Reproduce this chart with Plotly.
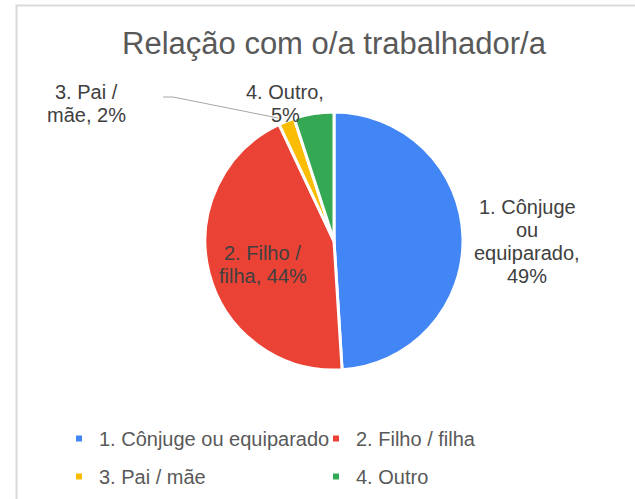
import plotly.graph_objects as go

# ---------------- data ----------------
categories = ["1. Cônjuge ou equiparado", "2. Filho / filha", "3. Pai / mãe", "4. Outro"]
values = [49, 44, 2, 5]
colors = ["#4285F4", "#EA4335", "#FBBC04", "#34A853"]
title_text = "Relação com o/a trabalhador/a"

# data labels, wrapped as in the reference
label_lines = [
    ["1. Cônjuge", "ou", "equiparado,", f"{values[0]}%"],
    ["2. Filho /", f"filha, {values[1]}%"],
    ["3. Pai /", f"mãe, {values[2]}%"],
    ["4. Outro,", f"{values[3]}%"],
]

# ---------------- layout helpers (pixels -> paper) ----------------
W, H = 635, 499
def px(x):
    return x / W
def py(y):
    return 1 - y / H

FONT = "Arial, 'Liberation Sans', sans-serif"
cx, cy, r = 334, 241, 129

fig = go.Figure()
fig.add_trace(go.Pie(
    labels=categories,
    values=values,
    sort=False,
    direction="clockwise",
    rotation=0,
    marker=dict(colors=colors, line=dict(color="white", width=3)),
    textinfo="none",
    hoverinfo="label+percent",
    showlegend=False,
    domain=dict(x=[px(cx - r), px(cx + r)], y=[py(cy + r), py(cy - r)]),
))

# legend entries (small square swatches like the reference), two rows
legend_ids = ["legend", "legend", "legend2", "legend2"]
for name, col, lg in zip(categories, colors, legend_ids):
    fig.add_trace(go.Scatter(
        x=[None], y=[None], mode="markers", name=name,
        marker=dict(symbol="square", size=6, color=col),
        showlegend=True, hoverinfo="skip", legend=lg,
    ))

# data label positions (centre x, centre y in px)
label_pos = [(527, 241.5), (262.5, 264), (86, 103.5), (285, 103.5)]
line_gap = 23
annotations = []
for lines, (lx, ly) in zip(label_lines, label_pos):
    n = len(lines)
    for i, t in enumerate(lines):
        yy = ly + (i - (n - 1) / 2) * line_gap
        annotations.append(dict(
            x=px(lx), y=py(yy), xref="paper", yref="paper",
            text=t, showarrow=False, xanchor="center", yanchor="middle",
            font=dict(family=FONT, size=20, color="#404040"),
        ))

shapes = [
    # chart border (partly outside the visible window)
    dict(type="rect", xref="paper", yref="paper",
         x0=px(16.5), x1=px(700), y0=py(560), y1=py(5.5),
         line=dict(color="#D9D9D9", width=2), fillcolor="rgba(0,0,0,0)"),
    # leader line for the small slice label
    dict(type="path", xref="paper", yref="paper",
         path=f"M {px(163)},{py(97)} L {px(173)},{py(97)} L {px(278)},{py(118)}",
         line=dict(color="#A6A6A6", width=1)),
]

legend_common = dict(orientation="h", xanchor="left", yanchor="top",
                     entrywidth=212, font=dict(family=FONT, size=20, color="#595959"),
                     bgcolor="rgba(0,0,0,0)", itemclick=False, itemdoubleclick=False)

fig.update_layout(
    width=W, height=H,
    margin=dict(l=0, r=0, t=0, b=0),
    paper_bgcolor="white", plot_bgcolor="white",
    title=dict(text=title_text, x=px(334), xanchor="center",
               y=py(43), yanchor="middle", yref="container",
               font=dict(family=FONT, size=31, color="#595959")),
    xaxis=dict(visible=False), yaxis=dict(visible=False),
    legend=dict(x=px(59), y=py(419), **legend_common),
    legend2=dict(x=px(59), y=py(457), **legend_common),
    annotations=annotations,
    shapes=shapes,
)

fig.write_html("out.html", config={"displayModeBar": False},
               post_script="document.body.style.margin='0';")
